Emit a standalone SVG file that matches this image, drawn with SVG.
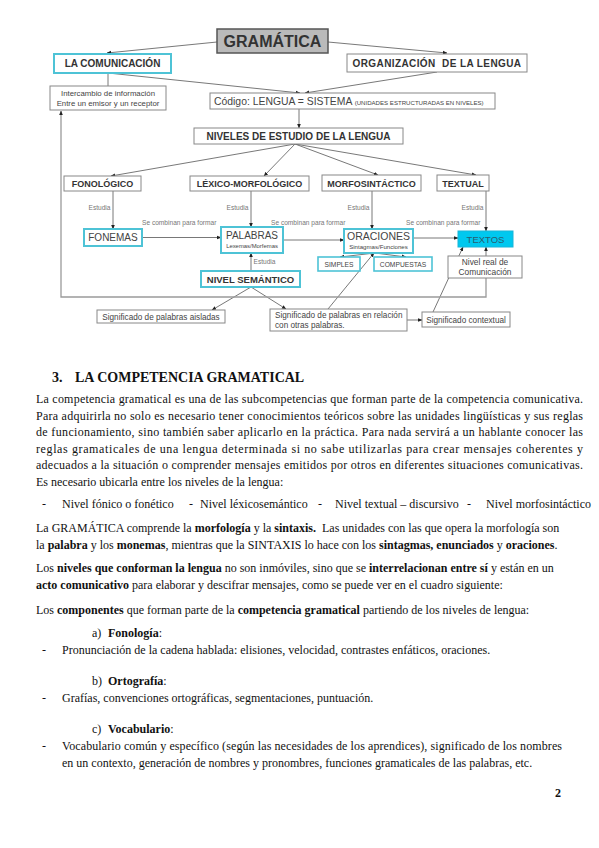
<svg xmlns="http://www.w3.org/2000/svg" width="599" height="848" viewBox="0 0 599 848">
<defs>
<marker id="a" viewBox="0 0 6 6" refX="5.5" refY="3" markerWidth="4.5" markerHeight="4.5" markerUnits="userSpaceOnUse" orient="auto"><path d="M0,0.5L6,3L0,5.5z" fill="#222"/></marker>
<style>
.box{fill:#fff;stroke:#888;stroke-width:1}
.cbox{fill:#fff;stroke:#4ec3d6;stroke-width:2}
.ln{stroke:#555;stroke-width:0.8;fill:none}
.lg{stroke:#9a9a9a;stroke-width:1.3;fill:none}
.h{font-family:"Liberation Sans",Arial,sans-serif;font-weight:bold;fill:#333;text-anchor:middle}
.t{font-family:"Liberation Sans",Arial,sans-serif;fill:#444;text-anchor:middle}
.s{font-family:"Liberation Sans",Arial,sans-serif;fill:#777;font-size:6.6px}
.b{font-family:"Liberation Serif","Times New Roman",serif;font-size:12px;fill:#111}
.bb{font-weight:bold}
</style>
</defs>
<rect width="599" height="848" fill="#fff"/>

<g id="connectors">
<line class="ln" x1="217" y1="42" x2="107" y2="53" marker-end="url(#a)"/>
<line class="ln" x1="328" y1="42" x2="447" y2="53" marker-end="url(#a)"/>
<line class="ln" x1="108" y1="73" x2="108" y2="86"/>
<line class="ln" x1="108" y1="73" x2="300" y2="93" marker-end="url(#a)"/>
<line class="ln" x1="437" y1="72" x2="305" y2="93" marker-end="url(#a)"/>
<line class="ln" x1="299" y1="109" x2="299" y2="128" marker-end="url(#a)"/>
<line class="ln" x1="295" y1="144" x2="111" y2="176" marker-end="url(#a)"/>
<line class="ln" x1="295" y1="144" x2="264" y2="176" marker-end="url(#a)"/>
<line class="ln" x1="295" y1="144" x2="378" y2="175" marker-end="url(#a)"/>
<line class="ln" x1="295" y1="144" x2="476" y2="175" marker-end="url(#a)"/>
<line class="ln" x1="113" y1="191" x2="113" y2="229" marker-end="url(#a)"/>
<line class="ln" x1="251" y1="191" x2="251" y2="227" marker-end="url(#a)"/>
<line class="ln" x1="372" y1="191" x2="372" y2="229" marker-end="url(#a)"/>
<line class="ln" x1="486" y1="191" x2="486" y2="231" marker-end="url(#a)"/>
<line class="ln" x1="142" y1="237.5" x2="221" y2="237.5" marker-end="url(#a)"/>
<line class="ln" x1="283" y1="240" x2="344" y2="240" marker-end="url(#a)"/>
<line class="ln" x1="413" y1="238" x2="458" y2="238" marker-end="url(#a)"/>
<line class="ln" x1="375" y1="253" x2="340" y2="257" marker-end="url(#a)"/>
<line class="ln" x1="375" y1="253" x2="406" y2="257" marker-end="url(#a)"/>
<line class="ln" x1="251" y1="271" x2="251" y2="253" marker-end="url(#a)"/>
<line class="ln" x1="251" y1="287" x2="212" y2="310" marker-end="url(#a)"/>
<line class="ln" x1="251" y1="287" x2="286" y2="309" marker-end="url(#a)"/>
<line class="ln" x1="328" y1="309" x2="374" y2="253" marker-end="url(#a)"/>
<line class="ln" x1="407" y1="320" x2="422" y2="320" marker-end="url(#a)"/>
<line class="ln" x1="433" y1="312" x2="463" y2="247" marker-end="url(#a)"/>
<line class="ln" x1="486" y1="256" x2="486" y2="247" marker-end="url(#a)"/>
<path class="lg" d="M486,278V297H61V111" marker-end="url(#a)"/>
<text class="s" x="110.5" y="210" text-anchor="end">Estudia</text>
<text class="s" x="248.5" y="210" text-anchor="end">Estudia</text>
<text class="s" x="369.5" y="210" text-anchor="end">Estudia</text>
<text class="s" x="483.5" y="210" text-anchor="end">Estudia</text>
<text class="s" x="253.5" y="264">Estudia</text>
<text class="s" x="142" y="225">Se combinan para formar</text>
<text class="s" x="271" y="225">Se combinan para formar</text>
<text class="s" x="406" y="225">Se combinan para formar</text>
</g>

<g id="gramatica"><rect x="217" y="29" width="111" height="24" fill="#bababa" stroke="#555" stroke-width="1.5"/><text class="h" x="272.5" y="47" font-size="16">GRAMÁTICA</text></g>
<g id="comunicacion"><rect class="cbox" x="54" y="54" width="117" height="19"/><text class="h" x="112.5" y="67" font-size="10">LA COMUNICACIÓN</text></g>
<g id="organizacion"><rect class="box" x="347" y="54" width="180" height="18"/><text class="h" x="437" y="66.5" font-size="10" letter-spacing="0.4" xml:space="preserve">ORGANIZACIÓN  DE LA LENGUA</text></g>
<g id="intercambio"><rect class="box" x="50" y="86" width="116" height="24"/><text class="t" x="108" y="96" font-size="7.8">Intercambio de información</text><text class="t" x="108" y="105.5" font-size="7.8">Entre un emisor y un receptor</text></g>
<g id="codigo"><rect class="box" x="210" y="93" width="285" height="16"/><text font-family="Liberation Sans,Arial,sans-serif" fill="#444" x="214" y="105" font-size="10.4">Código: LENGUA = SISTEMA <tspan font-size="6.1">(UNIDADES ESTRUCTURADAS EN NIVELES)</tspan></text></g>
<g id="niveles"><rect class="box" x="194" y="128" width="209" height="16"/><text class="h" x="298.5" y="140" font-size="10">NIVELES DE ESTUDIO DE LA LENGUA</text></g>
<g id="fonologico"><rect class="box" x="64" y="176" width="77" height="15"/><text class="h" x="102.5" y="187" font-size="9">FONOLÓGICO</text></g>
<g id="lexico"><rect class="box" x="190" y="176" width="119" height="15"/><text class="h" x="249.5" y="187" font-size="9">LÉXICO-MORFOLÓGICO</text></g>
<g id="morfo"><rect class="box" x="322" y="175" width="99" height="16"/><text class="h" x="371.5" y="187" font-size="9">MORFOSINTÁCTICO</text></g>
<g id="textual"><rect class="box" x="437" y="175" width="52" height="16"/><text class="h" x="463" y="187" font-size="9">TEXTUAL</text></g>
<g id="fonemas"><rect class="cbox" x="84" y="229" width="58" height="17"/><text class="t" x="113" y="241" font-size="10">FONEMAS</text></g>
<g id="palabras"><rect class="cbox" x="221" y="227" width="62" height="26"/><text class="t" x="252" y="239" font-size="10">PALABRAS</text><text class="t" x="252" y="247.5" font-size="5.9">Lexemas/Morfemas</text></g>
<g id="oraciones"><rect class="cbox" x="344" y="229" width="69" height="24"/><text class="t" x="378.5" y="240" font-size="10.5">ORACIONES</text><text class="t" x="378.5" y="248.5" font-size="6.1">Sintagmas/Funciones</text></g>
<g id="textos"><rect x="458" y="231" width="55" height="16" fill="#00c8ef" stroke="#19b5d8" stroke-width="1"/><text class="t" x="485.5" y="243" font-size="9.5" style="fill:#2a5d70">TEXTOS</text></g>
<g id="simples"><rect class="cbox" x="318" y="257" width="42" height="14" style="stroke-width:1.6"/><text class="t" x="339" y="266.5" font-size="6.7">SIMPLES</text></g>
<g id="compuestas"><rect class="cbox" x="374" y="257" width="58" height="14" style="stroke-width:1.6"/><text class="t" x="403" y="266.5" font-size="6.7">COMPUESTAS</text></g>
<g id="nivelreal"><rect class="box" x="448" y="256" width="74" height="22"/><text class="t" x="485" y="265" font-size="8.4">Nivel real de</text><text class="t" x="485" y="274.5" font-size="8.4">Comunicación</text></g>
<g id="semantico"><rect class="cbox" x="201" y="271" width="99" height="16"/><text class="h" x="250.5" y="282.5" font-size="9.5">NIVEL SEMÁNTICO</text></g>
<g id="aisladas"><rect class="box" x="97" y="310" width="128" height="13"/><text class="t" x="161" y="319.5" font-size="8.2">Significado de palabras aisladas</text></g>
<g id="relacion"><rect class="box" x="270" y="309" width="137" height="22"/><text class="t" x="275" y="318" font-size="8.2" style="text-anchor:start">Significado de palabras en relación</text><text class="t" x="275" y="327.5" font-size="8.2" style="text-anchor:start">con otras palabras.</text></g>
<g id="contextual"><rect class="box" x="422" y="312" width="88" height="15"/><text class="t" x="466" y="322.5" font-size="8.2">Significado contextual</text></g>

<g id="body">
<text class="b bb" x="52" y="382" style="font-size:14px">3.<tspan x="75">LA COMPETENCIA GRAMATICAL</tspan></text>
<text class="b" x="36" y="403" textLength="547" lengthAdjust="spacing">La competencia gramatical es una de las subcompetencias que forman parte de la competencia comunicativa.</text>
<text class="b" x="36" y="419.6" textLength="547" lengthAdjust="spacing">Para adquirirla no solo es necesario tener conocimientos teóricos sobre las unidades lingüísticas y sus reglas</text>
<text class="b" x="36" y="436.2" textLength="547" lengthAdjust="spacing">de funcionamiento, sino también saber aplicarlo en la práctica. Para nada servirá a un hablante conocer las</text>
<text class="b" x="36" y="452.8" textLength="547" lengthAdjust="spacing">reglas gramaticales de una lengua determinada si no sabe utilizarlas para crear mensajes coherentes y</text>
<text class="b" x="36" y="469.4" textLength="547" lengthAdjust="spacing">adecuados a la situación o comprender mensajes emitidos por otros en diferentes situaciones comunicativas.</text>
<text class="b" x="36" y="486">Es necesario ubicarla entre los niveles de la lengua:</text>
<text class="b" x="42" y="508">-</text>
<text class="b" x="62" y="508">Nivel fónico o fonético</text>
<text class="b" x="189" y="508">-</text>
<text class="b" x="200" y="508">Nivel léxicosemántico</text>
<text class="b" x="318" y="508">-</text>
<text class="b" x="335" y="508">Nivel textual – discursivo</text>
<text class="b" x="467" y="508">-</text>
<text class="b" x="486" y="508">Nivel morfosintáctico</text>
<text class="b" x="36" y="532" xml:space="preserve">La GRAMÁTICA comprende la <tspan class="bb">morfología</tspan> y la <tspan class="bb">sintaxis.</tspan>  Las unidades con las que opera la morfología son</text>
<text class="b" x="36" y="549">la <tspan class="bb">palabra</tspan> y los <tspan class="bb">monemas</tspan>, mientras que la SINTAXIS lo hace con los <tspan class="bb">sintagmas, enunciados</tspan> y <tspan class="bb">oraciones</tspan>.</text>
<text class="b" x="36" y="572">Los <tspan class="bb">niveles que conforman la lengua</tspan> no son inmóviles, sino que se <tspan class="bb">interrelacionan entre sí</tspan> y están en un</text>
<text class="b" x="36" y="589"><tspan class="bb">acto comunicativo</tspan> para elaborar y descifrar mensajes, como se puede ver en el cuadro siguiente:</text>
<text class="b" x="36" y="614">Los <tspan class="bb">componentes</tspan> que forman parte de la <tspan class="bb">competencia gramatical</tspan> partiendo de los niveles de lengua:</text>
<text class="b" x="92" y="637">a)<tspan class="bb" x="108">Fonología</tspan>:</text>
<text class="b" x="42" y="654">-</text>
<text class="b" x="62" y="654">Pronunciación de la cadena hablada: elisiones, velocidad, contrastes enfáticos, oraciones.</text>
<text class="b" x="92" y="685">b)<tspan class="bb" x="108">Ortografía</tspan>:</text>
<text class="b" x="42" y="702">-</text>
<text class="b" x="62" y="702">Grafías, convenciones ortográficas, segmentaciones, puntuación.</text>
<text class="b" x="92" y="733">c)<tspan class="bb" x="108">Vocabulario</tspan>:</text>
<text class="b" x="42" y="750">-</text>
<text class="b" x="62" y="750" textLength="500" lengthAdjust="spacing">Vocabulario común y específico (según las necesidades de los aprendices), significado de los nombres</text>
<text class="b" x="62" y="767">en un contexto, generación de nombres y pronombres, funciones gramaticales de las palabras, etc.</text>
<text class="b bb" x="555" y="797">2</text>
</g>
</svg>
